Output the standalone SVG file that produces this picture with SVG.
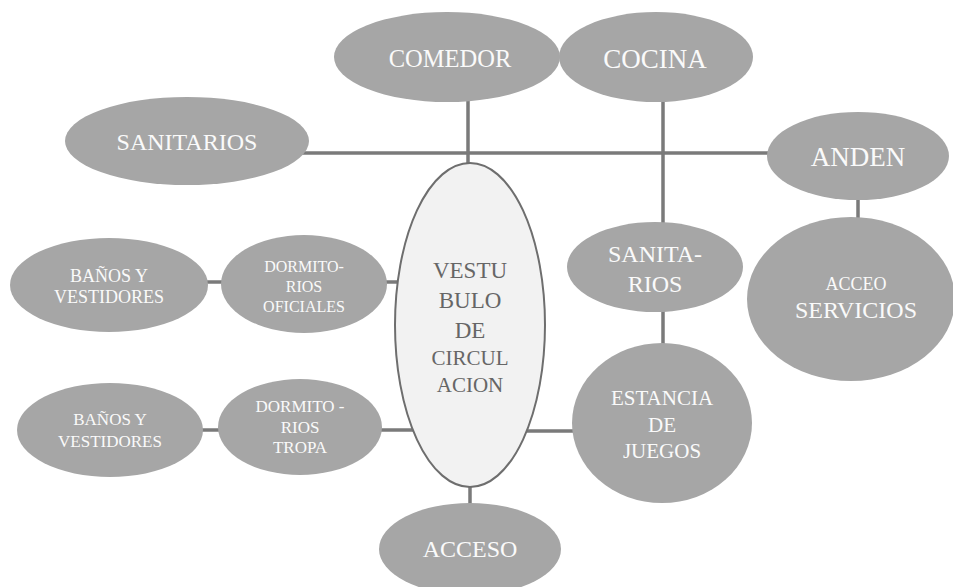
<svg xmlns="http://www.w3.org/2000/svg" width="953" height="587" viewBox="0 0 953 587">
<style>
.n{fill:#a6a6a6;stroke:none}
.v{fill:#f2f2f2;stroke:#6e6e6e;stroke-width:2}
.t{fill:#fafafa;font-family:"Liberation Serif","Times New Roman",serif;text-anchor:middle}
.tv{fill:#666;font-family:"Liberation Serif","Times New Roman",serif;text-anchor:middle}
.c line{stroke:#7a7a7a;stroke-width:3.5}
</style>
<rect width="953" height="587" fill="#fff"/>
<g id="connectors" class="c">
<line x1="300" y1="153" x2="772" y2="153"/>
<line x1="468" y1="98" x2="468" y2="166"/>
<line x1="663" y1="98" x2="663" y2="226"/>
<line x1="663" y1="308" x2="663" y2="347"/>
<line x1="858" y1="196" x2="858" y2="222"/>
<line x1="204" y1="282" x2="226" y2="282"/>
<line x1="383" y1="282" x2="400" y2="282"/>
<line x1="199" y1="430" x2="222" y2="430"/>
<line x1="379" y1="430" x2="415" y2="430"/>
<line x1="525" y1="431" x2="576" y2="431"/>
<line x1="470" y1="484" x2="470" y2="507"/>
</g>
<g id="comedor"><ellipse class="n" cx="447" cy="57" rx="113" ry="45"/><text class="t" x="450" y="67" font-size="24.5">COMEDOR</text></g>
<g id="cocina"><ellipse class="n" cx="656" cy="57" rx="97" ry="45"/><text class="t" x="655" y="68" font-size="27">COCINA</text></g>
<g id="sanitarios"><ellipse class="n" cx="187" cy="141" rx="122" ry="44"/><text class="t" x="187" y="150" font-size="24">SANITARIOS</text></g>
<g id="anden"><ellipse class="n" cx="858" cy="156" rx="91" ry="44"/><text class="t" x="858" y="166" font-size="27">ANDEN</text></g>
<g id="acceo-servicios"><ellipse class="n" cx="851" cy="299" rx="104" ry="82"/><text class="t" x="856" y="290" font-size="18">ACCEO</text><text class="t" x="856" y="318" font-size="24">SERVICIOS</text></g>
<g id="sanita-rios"><ellipse class="n" cx="655" cy="267" rx="88" ry="45"/><text class="t" x="655" y="262" font-size="24">SANITA-</text><text class="t" x="655" y="292" font-size="24">RIOS</text></g>
<g id="estancia"><ellipse class="n" cx="662" cy="423" rx="90" ry="80"/><text class="t" x="662" y="405" font-size="21">ESTANCIA</text><text class="t" x="662" y="432" font-size="21">DE</text><text class="t" x="662" y="458" font-size="21">JUEGOS</text></g>
<g id="vestibulo"><ellipse class="v" cx="470" cy="325" rx="75" ry="162"/><text class="tv" x="470" y="278" font-size="23">VESTU</text><text class="tv" x="470" y="308" font-size="23">BULO</text><text class="tv" x="470" y="338" font-size="23">DE</text><text class="tv" x="470" y="365" font-size="21">CIRCUL</text><text class="tv" x="470" y="392" font-size="21">ACION</text></g>
<g id="acceso"><ellipse class="n" cx="470" cy="549" rx="91" ry="46"/><text class="t" x="470" y="557" font-size="24">ACCESO</text></g>
<g id="banos-1"><ellipse class="n" cx="109" cy="285" rx="99" ry="47"/><text class="t" x="109" y="282" font-size="18">BAÑOS Y</text><text class="t" x="109" y="303" font-size="18">VESTIDORES</text></g>
<g id="dormitorios-oficiales"><ellipse class="n" cx="304" cy="284" rx="83" ry="49"/><text class="t" x="304" y="272" font-size="16">DORMITO-</text><text class="t" x="304" y="292" font-size="16">RIOS</text><text class="t" x="304" y="312" font-size="16">OFICIALES</text></g>
<g id="banos-2"><ellipse class="n" cx="110" cy="430" rx="93" ry="47"/><text class="t" x="110" y="425" font-size="17">BAÑOS Y</text><text class="t" x="110" y="447" font-size="17">VESTIDORES</text></g>
<g id="dormitorios-tropa"><ellipse class="n" cx="300" cy="427" rx="82" ry="48"/><text class="t" x="300" y="412" font-size="17">DORMITO -</text><text class="t" x="300" y="433" font-size="17">RIOS</text><text class="t" x="300" y="453" font-size="17">TROPA</text></g>
</svg>
